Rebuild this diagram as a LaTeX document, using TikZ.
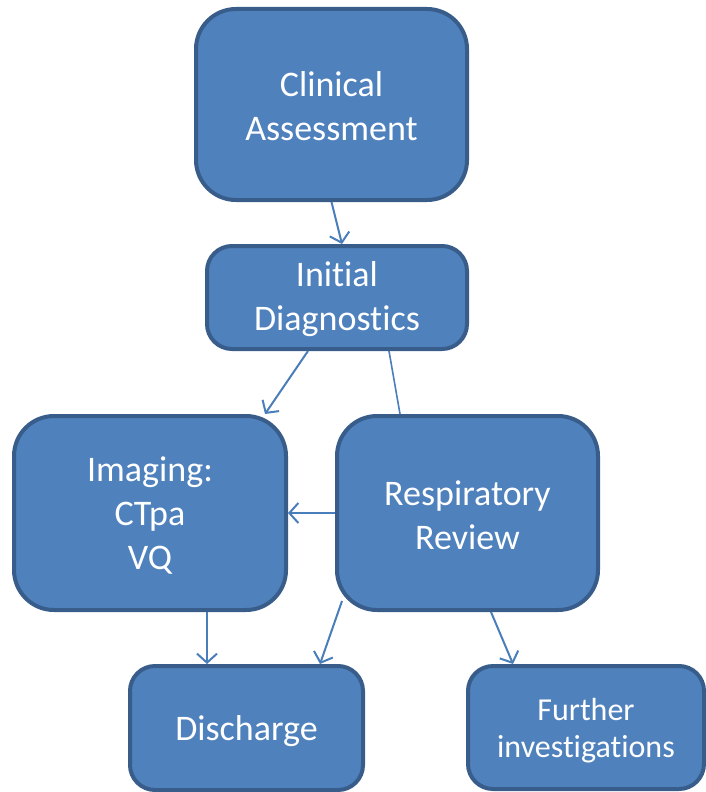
\documentclass[tikz,border=0pt]{standalone}
\usepackage{fontspec}
\setmainfont{Carlito}[Ligatures={NoCommon}]
\usetikzlibrary{arrows.meta}
\definecolor{boxfill}{HTML}{4F81BD}
\definecolor{boxline}{HTML}{385D8A}
\definecolor{arrowc}{HTML}{4A7EBB}
\tikzset{
  box/.style={draw=boxline, fill=boxfill, line width=4pt, text=white, align=center,
    font=\fontsize{36}{44}\selectfont, inner sep=0pt},
  bigbox/.style={box, rounded corners=40pt},
  smallbox/.style={box, rounded corners=25pt},
  conn/.style={draw=arrowc, line width=2pt, -{Straight Barb[length=9pt,width=20pt,line width=2pt]}},
  plainconn/.style={draw=arrowc, line width=1.6pt},
  lbl/.style={text=white, align=center, font=\fontsize{36}{44}\selectfont, inner sep=0pt}
}
\begin{document}
\begin{tikzpicture}[x=1pt,y=-1pt]
\useasboundingbox (0,0) rectangle (706,792);
\node[bigbox, minimum width=271pt, minimum height=191pt] (ca) at (331.5,104.5) {};
\node[smallbox, minimum width=260pt, minimum height=103pt] (id) at (337,297.5) {};
\node[bigbox, minimum width=272pt, minimum height=194pt] (im) at (150,513) {};
\node[bigbox, minimum width=261pt, minimum height=194pt] (rr) at (467.5,513) {};
\node[smallbox, minimum width=233pt, minimum height=124pt] (dis) at (246.5,728) {};
\node[smallbox, minimum width=236pt, minimum height=123pt] (fi) at (586,727.5) {};

\node[lbl] (tca) at ([shift={(0,2)}]ca.center) {Clinical\\Assessment};
\node[lbl] (tid) at ([shift={(0,2)}]id.center) {Initial\\Diagnostics};
\node[lbl] (tim) at ([shift={(0,2)}]im.center) {Imaging:\\CTpa\\VQ};
\node[lbl] (trr) at ([shift={(0,2)}]rr.center) {Respiratory\\Review};
\node[lbl] (tdis) at ([shift={(0,3)}]dis.center) {Discharge};
\node[lbl, font=\fontsize{32}{37}\selectfont] (tfi) at ([shift={(0,3)}]fi.center) {Further\\investigations};

\draw[conn] (ca.south) -- ([shift={(5,0)}]id.north);
\draw[conn] ([shift={(-29,0)}]id.south) -- ([shift={(115,0)}]im.north);
\draw[plainconn] ([shift={(52,0)}]id.south) -- ([shift={(-67.5,0)}]rr.north);
\draw[conn] (rr.west) -- (im.east);
\draw[conn] ([shift={(57,0)}]im.south) -- ([shift={(-39.5,0)}]dis.north);
\draw[conn] ([shift={(-125.5,-11)}]rr.south) -- ([shift={(73.5,0)}]dis.north);
\draw[conn] ([shift={(23.5,0)}]rr.south) -- ([shift={(-73,0)}]fi.north);
\end{tikzpicture}
\end{document}
